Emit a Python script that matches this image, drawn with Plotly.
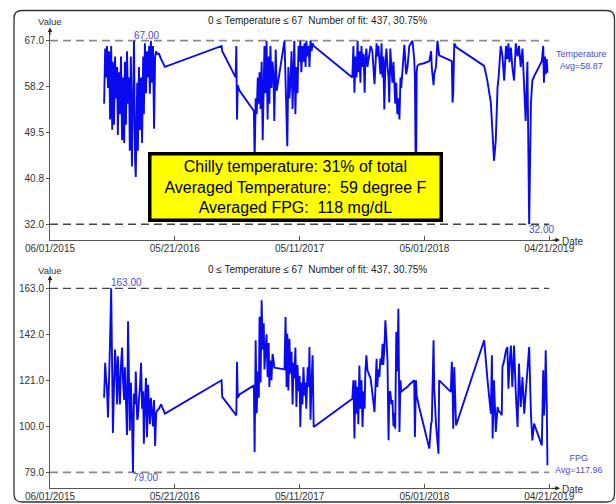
import plotly.graph_objects as go
import numpy as np

# ---------------- data ----------------
dates = [
    "2015-11-02", "2015-11-05", "2015-11-08", "2015-11-10", "2015-11-13", "2015-11-16", "2015-11-19",
    "2015-11-22", "2015-11-25", "2015-11-27", "2015-11-30", "2015-12-03", "2015-12-06", "2015-12-09",
    "2015-12-11", "2015-12-14", "2015-12-17", "2015-12-20", "2015-12-23", "2015-12-26", "2015-12-29",
    "2015-12-31", "2016-01-03", "2016-01-06", "2016-01-09", "2016-01-12", "2016-01-14", "2016-01-17",
    "2016-01-20", "2016-01-23", "2016-01-26", "2016-01-29", "2016-01-31", "2016-02-04", "2016-02-06",
    "2016-02-09", "2016-02-12", "2016-02-15", "2016-02-18", "2016-02-21", "2016-02-23", "2016-02-26",
    "2016-02-29", "2016-03-03", "2016-03-06", "2016-03-09", "2016-03-11", "2016-03-14", "2016-03-17",
    "2016-03-20", "2016-03-23", "2016-03-26", "2016-03-29", "2016-03-31",
    "2016-04-06", "2016-04-12", "2016-04-23", "2016-10-01", "2016-10-03", "2016-11-10", "2016-11-12",
    "2016-11-14", "2016-11-16", "2016-11-21", "2017-01-01",
    "2017-01-03", "2017-01-06", "2017-01-09", "2017-01-12", "2017-01-15", "2017-01-17", "2017-01-20",
    "2017-01-23", "2017-01-26", "2017-01-29", "2017-01-31", "2017-02-03", "2017-02-06", "2017-02-09",
    "2017-02-12", "2017-02-14", "2017-02-17", "2017-02-20", "2017-02-23", "2017-02-26", "2017-02-28",
    "2017-03-04", "2017-03-07", "2017-03-29", "2017-04-01", "2017-04-04", "2017-04-06", "2017-04-09",
    "2017-04-12", "2017-04-15", "2017-04-18", "2017-04-21", "2017-04-24", "2017-04-26", "2017-04-29",
    "2017-05-02", "2017-05-05", "2017-05-08", "2017-05-11", "2017-05-13", "2017-05-16", "2017-05-19",
    "2017-05-22", "2017-05-25", "2017-05-28", "2017-05-30", "2017-06-03", "2017-06-06", "2017-06-08",
    "2017-06-11", "2017-06-14", "2017-06-17", "2017-06-20",
    "2017-10-08", "2017-10-11", "2017-10-14", "2017-10-17", "2017-10-20", "2017-10-23", "2017-10-25",
    "2017-10-28", "2017-10-31", "2017-11-03", "2017-11-06", "2017-11-09", "2017-11-12", "2017-11-14",
    "2017-11-17", "2017-11-20", "2017-11-29", "2017-12-04", "2017-12-10", "2017-12-16", "2017-12-18",
    "2017-12-21", "2017-12-24", "2017-12-27", "2017-12-30", "2018-01-02", "2018-01-04", "2018-01-07",
    "2018-01-10", "2018-01-13", "2018-01-16", "2018-01-19", "2018-01-21", "2018-01-24", "2018-01-27",
    "2018-01-30", "2018-02-02", "2018-02-05", "2018-02-07", "2018-02-10", "2018-02-13", "2018-02-16",
    "2018-02-19", "2018-02-22", "2018-02-24", "2018-03-05", "2018-03-10", "2018-03-14", "2018-03-19",
    "2018-03-28", "2018-04-02", "2018-04-04", "2018-04-07", "2018-04-09", "2018-04-11", "2018-04-16",
    "2018-04-30", "2018-05-15", "2018-05-20", "2018-05-22", "2018-05-27", "2018-05-29", "2018-06-03",
    "2018-06-07", "2018-06-10", "2018-06-12", "2018-07-15", "2018-07-18", "2018-07-20", "2018-07-22",
    "2018-07-25", "2018-07-30", "2018-10-18", "2018-10-27", "2018-11-06", "2018-11-09", "2018-11-11",
    "2018-11-15", "2018-11-20", "2018-11-23", "2018-11-25", "2018-11-28", "2018-12-04", "2018-12-07",
    "2018-12-09", "2018-12-14", "2018-12-19", "2018-12-23", "2018-12-26", "2018-12-29", "2019-01-02",
    "2019-01-06", "2019-01-11", "2019-01-16", "2019-01-21", "2019-01-25", "2019-01-30", "2019-02-04",
    "2019-02-09", "2019-02-13", "2019-02-18", "2019-02-23", "2019-02-28", "2019-03-04", "2019-03-09",
    "2019-03-31", "2019-04-04", "2019-04-06", "2019-04-09", "2019-04-11", "2019-04-14", "2019-04-16",
]

temperature = [
    55, 65.5, 60, 66, 58, 65, 52, 66, 50, 63, 51, 64, 56, 62, 49, 61, 53, 64, 48, 60, 47.5,
    63, 51, 65, 55, 60, 46, 64, 43, 58, 67, 44, 41, 59, 46, 62, 50, 60, 47.5, 64, 53, 66.5,
    57, 65, 60, 66, 56.9, 67, 59, 66, 50.2, 64, 65, 64.5,
    64.5, 63.5, 62, 66, 65, 60, 66, 52, 58.5, 57.5, 53.6,
    44, 56, 53, 60, 55, 61, 54, 63, 48, 62, 66, 57, 67, 52, 64, 55, 66, 58, 63, 60, 51.7,
    65.3, 57.5, 67, 60, 55, 46.9, 62, 56, 59, 65, 54, 60, 67, 53, 62, 57, 66, 63, 67, 61,
    66, 63, 66.5, 62, 67, 64, 66, 62, 67, 65, 66.5, 66,
    60, 66, 57.1, 64, 60, 67, 61, 65, 59, 66, 62, 64.5, 57.1, 63, 65.5, 62, 66, 65, 58.7,
    66.5, 64, 66, 63, 60.6, 66.5, 60, 64, 53.9, 63, 65.5, 62, 60, 55.2, 65.5, 62, 59, 63,
    57, 55, 59, 53, 56, 52, 60, 58, 66.2, 60.6, 62, 66, 67, 63.5, 60, 36, 61, 62.2, 62.5,
    62.7, 63.1, 65, 61.9, 58.5, 60.6, 62, 67, 65, 64.2, 63.2, 63.1, 55.2, 57, 66.5, 65.8,
    62.2, 59.4, 55.2, 52, 49.9, 44.1, 48, 55, 58, 60, 66, 65, 64, 59.4, 66, 63.5, 66.5, 62.9,
    65.7, 62, 59.4, 66.5, 64, 66, 62, 65.5, 56.2, 51.7, 63, 32, 55, 59.4, 60.2, 63.1, 66, 59,
    64, 60.6, 63.5, 60.9,
]

fpg = [
    113, 129, 121, 118, 104, 130, 140, 163, 122, 97, 118, 135, 125, 110, 132, 118, 110, 128,
    136, 120, 112, 127, 108, 96, 148, 116, 98, 120, 105, 79, 115, 110, 125, 103, 104, 112, 118,
    129, 108, 116, 92, 110, 122, 95, 119, 108, 101, 113, 106, 100, 112, 91, 106, 107,
    108, 110, 105.8, 121, 113.4, 105.5, 105, 129.4, 113, 114.5, 118.7,
    88.3, 139.3, 106, 125, 113, 150, 120, 157.5, 135, 147, 126, 136, 142, 122.5, 138, 118, 130,
    121, 133, 130, 126.8, 126.7, 126.6, 126, 149.9, 118, 142.3, 116.4, 140, 124, 134, 110, 129,
    122, 136, 108.8, 128, 116, 123, 99.7, 120, 110, 127, 114, 120, 108, 127, 118, 136.2, 103,
    120, 132.4, 99.7,
    112.6, 121, 94.4, 121, 105.8, 118, 101, 127.8, 108, 121, 99.7, 116, 108, 125, 132.4, 125.6,
    121.8, 115, 106.5, 130.8, 118, 126, 122.5, 131, 128, 137.7, 128, 135, 148.4, 140, 130, 93.6,
    115, 116, 110, 112, 100, 106, 98.9, 143, 125, 153.7, 97.4, 121, 115.7, 117, 117.5, 118, 119,
    120.5, 121, 95.1, 121, 114, 112, 108.8, 99.7, 89.8, 101.2, 102, 139.3, 117.2, 101, 95, 87.5,
    121, 115.7, 129.4, 120, 98.9, 127.1, 100.4, 139.3, 122, 105.8, 132.4, 94.4, 121, 97.4, 104,
    108.8, 107, 106, 105, 127.1, 130, 134.7, 136.2, 117.2, 128, 136.9, 118, 136.9, 114.9, 99.7,
    128.6, 108.8, 122.5, 105.8, 114.9, 125.6, 136.2, 105.8, 93.6, 101.2, 91.3, 125.6, 105, 115,
    134.7, 110, 82.2,
]

x_tick_dates = ["2015-06-01", "2016-05-21", "2017-05-11", "2018-05-01", "2019-04-21"]
x_tick_labels = ["06/01/2015", "05/21/2016", "05/11/2017", "05/01/2018", "04/21/2019"]
temp_tick_vals = [32.0, 40.75, 49.5, 58.25, 67.0]
temp_tick_labels = ["32.0", "40.8", "49.5", "58.2", "67.0"]
fpg_tick_vals = [79, 100, 121, 142, 163]
fpg_tick_labels = ["79.0", "100.0", "121.0", "142.0", "163.0"]
temp_avg = 58.87
fpg_avg = 117.96
panel_title = "0 ≤ Temperature ≤ 67  Number of fit: 437, 30.75%"
box_lines = ["Chilly temperature: 31% of total",
             "Averaged Temperature:  59 degree F",
             "Averaged FPG:  118 mg/dL"]

# ---------------- layout helpers ----------------
W, H = 616, 504


def px(x):
    return x / W


def py(y):
    return 1 - y / H


FONT = "Liberation Sans, Arial, Helvetica, sans-serif"
LINE_BLUE = "#0a0af0"
TEXT_BLUE = "#4b4bd8"
AXIS_COL = "#555555"
TXT = "#333333"

fig = go.Figure()
fig.add_trace(go.Scatter(x=dates, y=temperature, mode="lines",
                         line=dict(color=LINE_BLUE, width=1.9),
                         xaxis="x", yaxis="y", hoverinfo="skip"))
fig.add_trace(go.Scatter(x=dates, y=fpg, mode="lines",
                         line=dict(color=LINE_BLUE, width=1.9),
                         xaxis="x2", yaxis="y2", hoverinfo="skip"))

x_range = ["2015-06-01", "2019-05-16"]
xdom = [px(50), px(558)]
common_x = dict(type="date", range=x_range, domain=xdom, tickmode="array",
                tickvals=x_tick_dates, ticktext=x_tick_labels, ticks="inside",
                ticklen=4, tickcolor=AXIS_COL, showline=True, linecolor=AXIS_COL,
                linewidth=1, showgrid=False, zeroline=False, automargin=False,
                ticklabelstandoff=-1,
                tickfont=dict(size=10, color=TXT, family=FONT))
common_y = dict(tickmode="array", ticks="outside", ticklen=3, tickcolor=AXIS_COL,
                showline=True, linecolor=AXIS_COL, linewidth=1, showgrid=False,
                zeroline=False, automargin=False,
                tickfont=dict(size=10, color=TXT, family=FONT))

fig.update_layout(
    xaxis=dict(anchor="y", **common_x),
    yaxis=dict(anchor="x", domain=[py(240), py(30)], range=[29.0, 69.04],
               tickvals=temp_tick_vals, ticktext=temp_tick_labels, **common_y),
    xaxis2=dict(anchor="y2", **common_x),
    yaxis2=dict(anchor="x2", domain=[py(488.3), py(278)], range=[71.7, 167.7],
                tickvals=fpg_tick_vals, ticktext=fpg_tick_labels, **common_y),
)

shapes = []
# limit lines
for yref, xref, val, col, w in [("y", "x", 67, "#8a8a8a", 1.8), ("y", "x", 32, "#444444", 1.3),
                                ("y2", "x2", 163, "#444444", 1.3), ("y2", "x2", 79, "#8a8a8a", 1.8)]:
    shapes.append(dict(type="line", xref=xref, yref=yref, x0=x_tick_dates[0], x1=x_tick_dates[-1],
                       y0=val, y1=val, line=dict(color=col, width=w, dash="8px,5px"), layer="below"))

# rounded outer frame
L, T, R, B, r = 14, 10.5, 614.5, 502, 8
path = (f"M {px(L + r)},{py(T)} L {px(R - r)},{py(T)} Q {px(R)},{py(T)} {px(R)},{py(T + r)} "
        f"L {px(R)},{py(B - r)} Q {px(R)},{py(B)} {px(R - r)},{py(B)} "
        f"L {px(L + r)},{py(B)} Q {px(L)},{py(B)} {px(L)},{py(B - r)} "
        f"L {px(L)},{py(T + r)} Q {px(L)},{py(T)} {px(L + r)},{py(T)} Z")
shapes.append(dict(type="path", xref="paper", yref="paper", path=path,
                   line=dict(color="#333333", width=1.3)))

annotations = []


def txt(x, y, text, size=10, color=TXT, xanchor="center", yanchor="middle", align="center"):
    annotations.append(dict(x=px(x), y=py(y), xref="paper", yref="paper", text=text,
                            showarrow=False, xanchor=xanchor, yanchor=yanchor, align=align,
                            font=dict(size=size, color=color, family=FONT)))


# titles and axis names
txt(317.5, 20.7, panel_title, size=10, color="#222222")
txt(317.5, 269, panel_title, size=10, color="#222222")
txt(50, 22, "Value", size=9.5)
txt(50, 270.5, "Value", size=9.5)
txt(573, 241, "Date", size=10)
txt(573, 489.5, "Date", size=10)

# axis arrows
for (hx, hy, ax, ay) in [(50, 27.5, 0, 9), (560, 240, -9, 0), (50, 275.5, 0, 9), (560, 488.3, -9, 0)]:
    annotations.append(dict(x=px(hx), y=py(hy), xref="paper", yref="paper", text="",
                            showarrow=True, ax=ax, ay=ay, arrowhead=2, arrowsize=0.9,
                            arrowwidth=1, arrowcolor="#222222"))

# extreme value labels
t = np.array(temperature)
f = np.array(fpg)
for xr, yr, arr, fmt in [("x", "y", t, "{:.2f}"), ("x2", "y2", f, "{:.2f}")]:
    imax, imin = int(np.argmax(arr)), int(np.argmin(arr))
    annotations.append(dict(x=dates[imax], y=arr[imax], xref=xr, yref=yr, text=fmt.format(arr[imax]),
                            showarrow=False, xanchor="left", yanchor="bottom", xshift=-2, yshift=-2,
                            font=dict(size=10, color=TEXT_BLUE, family=FONT)))
    annotations.append(dict(x=dates[imin], y=arr[imin], xref=xr, yref=yr, text=fmt.format(arr[imin]),
                            showarrow=False, xanchor="left", yanchor="top", xshift=-2, yshift=2,
                            font=dict(size=10, color=TEXT_BLUE, family=FONT)))

# average labels
txt(581.7, 60, f"Temperature<br>Avg={temp_avg:.2f}", size=9, color=TEXT_BLUE)
txt(578.5, 464, f"FPG<br>Avg={fpg_avg:.2f}", size=9, color=TEXT_BLUE)

# yellow summary box
annotations.append(dict(x=px(295.7), y=py(187), xref="paper", yref="paper",
                        text="<br>".join(s.replace("  ", " \u00a0") for s in box_lines),
                        showarrow=False, xanchor="center", yanchor="middle", align="center",
                        font=dict(size=16, color="black", family=FONT),
                        bgcolor="#ffff00", bordercolor="black", borderwidth=3.5, borderpad=1.5,
                        width=285, height=60))

fig.update_layout(width=W, height=H, margin=dict(l=0, r=0, t=0, b=0),
                  paper_bgcolor="white", plot_bgcolor="white", showlegend=False,
                  shapes=shapes, annotations=annotations, hovermode=False,
                  font=dict(family=FONT, color=TXT))

fig.write_html("out.html", config={"displayModeBar": False, "staticPlot": True},
               post_script="document.body.style.margin='0';document.body.style.overflow='hidden';")
